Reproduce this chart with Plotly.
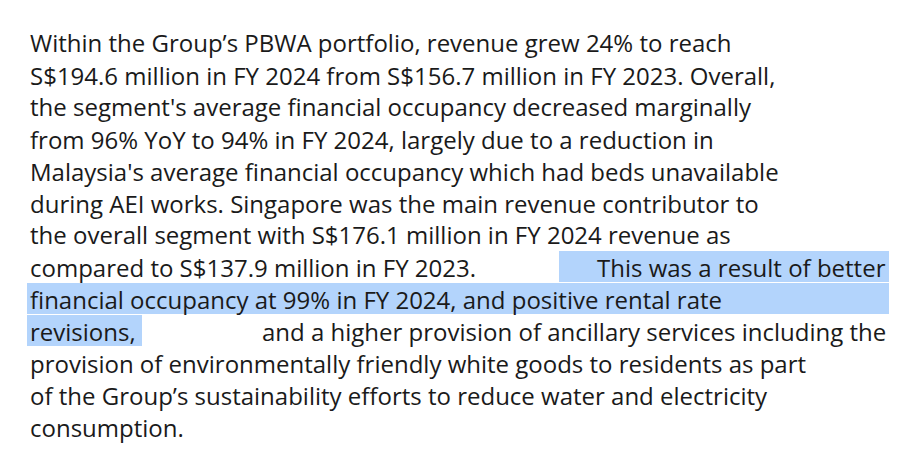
import plotly.graph_objects as go

# each line as list of segments: left-anchored text, optional right-anchored text
lines = [
    ["Within the Group’s PBWA portfolio, revenue grew 24% to reach"],
    ["S$194.6 million in FY 2024 from S$156.7 million in FY 2023. Overall,"],
    ["the segment's average financial occupancy decreased marginally"],
    ["from 96% YoY to 94% in FY 2024, largely due to a reduction in"],
    ["Malaysia's average financial occupancy which had beds unavailable"],
    ["during AEI works. Singapore was the main revenue contributor to"],
    ["the overall segment with S$176.1 million in FY 2024 revenue as"],
    ["compared to S$137.9 million in FY 2023.", "This was a result of better"],
    ["financial occupancy at 99% in FY 2024, and positive rental rate"],
    ["revisions,", "and a higher provision of ancillary services including the"],
    ["provision of environmentally friendly white goods to residents as part"],
    ["of the Group’s sustainability efforts to reduce water and electricity"],
    ["consumption."],
]
# highlighted spans: (line index, x start px, x end px)
highlights = [(7, 551, 881), (8, 19, 881), (9, 19, 134)]

W, H = 921, 466
L, R = 20, 880
c0, step = 35, 32.0
FONT = dict(family="Open Sans", size=24, color="#1a1a1a")

fig = go.Figure()
for i, segs in enumerate(lines):
    y = 1 - (c0 + step * i) / H
    fig.add_annotation(x=L / W, y=y, xref="paper", yref="paper", text=segs[0],
                       showarrow=False, xanchor="left", yanchor="middle", font=FONT)
    if len(segs) > 1:
        fig.add_annotation(x=R / W, y=y, xref="paper", yref="paper", text=segs[1],
                           showarrow=False, xanchor="right", yanchor="middle", font=FONT)

for li, x0, x1 in highlights:
    c = c0 + step * li
    fig.add_shape(type="rect", xref="paper", yref="paper", layer="below",
                  x0=x0 / W, x1=x1 / W, y0=1 - (c + 15) / H, y1=1 - (c - 16) / H,
                  fillcolor="#b3d4fc", line_width=0)

fig.update_xaxes(visible=False)
fig.update_yaxes(visible=False)
fig.update_layout(width=W, height=H, margin=dict(l=0, r=0, t=0, b=0),
                  plot_bgcolor="white", paper_bgcolor="white")
fig.write_html("out.html")
